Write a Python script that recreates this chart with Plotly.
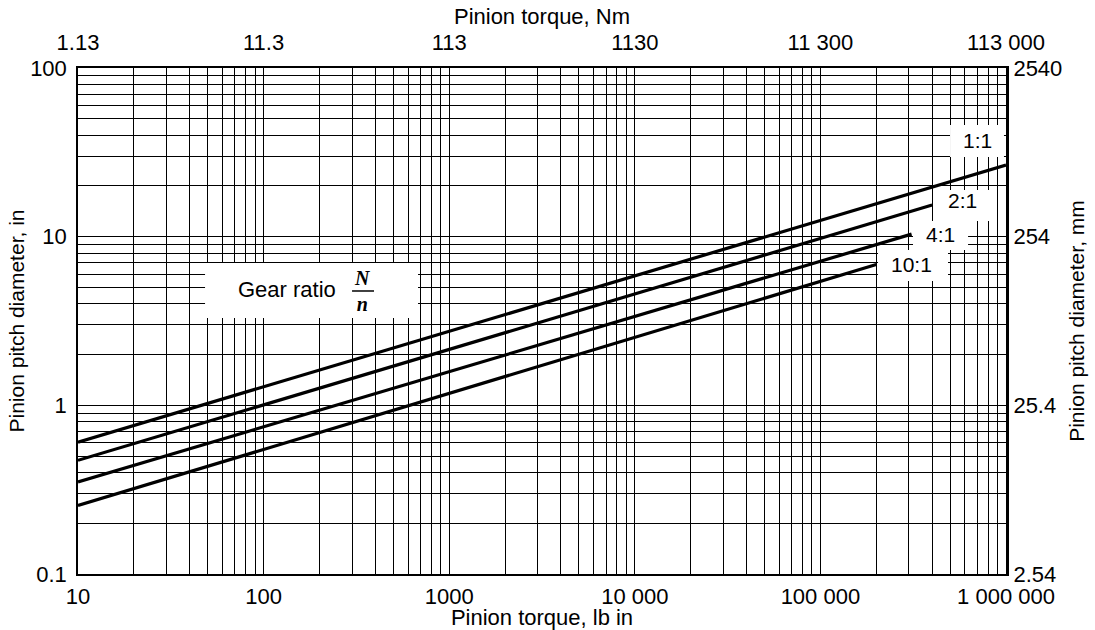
import plotly.graph_objects as go

# ---- data ----
ratio_labels = ["1:1", "2:1", "4:1", "10:1"]
torque_start_lbin = [10, 10, 10, 10]
torque_end_lbin = [1_000_000, 400_000, 310_000, 200_000]
diam_start_in = [0.605, 0.472, 0.351, 0.255]
diam_end_in = [26.6, 15.4, 10.35, 6.84]

x_tick_vals = [10, 100, 1000, 10000, 100000, 1000000]
x_tick_labels_lbin = ["10", "100", "1000", "10 000", "100 000", "1 000 000"]
x_tick_labels_nm = ["1.13", "11.3", "113", "1130", "11 300", "113 000"]
y_tick_vals = [0.1, 1, 10, 100]
y_tick_labels_in = ["0.1", "1", "10", "100"]
y_tick_labels_mm = ["2.54", "25.4", "254", "2540"]
grid_multipliers = [1, 2, 3, 4, 5, 6, 7, 8, 9]

FONT = "Liberation Sans, Arial, sans-serif"
FSH = 22   # horizontal text
FSV = 21   # vertical text


def log_grid(decades, last):
    vals, texts = [], []
    lab = dict(zip(decades, last))
    for d in decades[:-1]:
        for m in grid_multipliers:
            vals.append(d * m)
            texts.append(lab[d] if m == 1 else "")
    vals.append(decades[-1])
    texts.append(lab[decades[-1]])
    return vals, texts


gx, gx_text = log_grid(x_tick_vals, x_tick_labels_lbin)
gy, gy_text = log_grid(y_tick_vals, y_tick_labels_in)

fig = go.Figure()
for lab, t0, t1, d0, d1 in zip(ratio_labels, torque_start_lbin, torque_end_lbin,
                               diam_start_in, diam_end_in):
    fig.add_trace(go.Scatter(x=[t0, t1], y=[d0, d1], mode="lines", name=lab,
                             line=dict(color="black", width=3.2),
                             showlegend=False, hoverinfo="skip"))
# secondary axes holder
fig.add_trace(go.Scatter(x=[None], y=[None], xaxis="x2", yaxis="y2",
                         showlegend=False, hoverinfo="skip"))

axis_common = dict(showline=True, linecolor="black", zeroline=False, ticks="",
                   automargin=False)

fig.update_layout(
    width=1095, height=630,
    margin=dict(l=78, r=89, t=68, b=56),
    paper_bgcolor="white", plot_bgcolor="white",
    font=dict(family=FONT, size=FSH, color="black"),
    xaxis=dict(type="log", range=[1, 6], tickmode="array", tickvals=gx, ticktext=gx_text,
               showgrid=True, gridcolor="black", gridwidth=1.3, linewidth=1.5,
               tickfont=dict(family=FONT, size=FSH, color="black"),
               ticklabelstandoff=2,
               title=dict(text="Pinion torque, lb in", standoff=5,
                          font=dict(family=FONT, size=FSH)),
               **axis_common),
    xaxis2=dict(type="log", range=[1, 6], overlaying="x", side="top", anchor="y",
                tickmode="array", tickvals=x_tick_vals, ticktext=x_tick_labels_nm,
                showgrid=False, linewidth=1.5,
                tickfont=dict(family=FONT, size=FSH, color="black"),
                ticklabelstandoff=7,
                title=dict(text="Pinion torque, Nm", standoff=0,
                           font=dict(family=FONT, size=FSH)),
                **axis_common),
    yaxis=dict(type="log", range=[-1, 2], tickmode="array", tickvals=gy, ticktext=gy_text,
               showgrid=True, gridcolor="black", gridwidth=1.3, linewidth=1.5,
               tickfont=dict(family=FONT, size=FSH, color="black"),
               ticklabelstandoff=5,
               title=dict(text="Pinion pitch diameter, in", standoff=0,
                          font=dict(family=FONT, size=FSV)),
               **axis_common),
    yaxis2=dict(type="log", range=[-1, 2], overlaying="y", side="right", anchor="x",
                tickmode="array", tickvals=y_tick_vals, ticktext=y_tick_labels_mm,
                showgrid=False, linewidth=3,
                tickfont=dict(family=FONT, size=FSH, color="black"),
                ticklabelstandoff=0,
                title=dict(text="Pinion pitch diameter, mm", standoff=8,
                           font=dict(family=FONT, size=FSV)),
                **axis_common),
)

# white label boxes (paper coords), placed clear of the curves
boxes = [
    (0.9397, 0.9978, 0.8241, 0.8874),  # 1:1
    (0.9224, 0.9892, 0.6976, 0.7589),  # 2:1
    (0.8998, 0.9591, 0.6403, 0.6976),  # 4:1
    (0.8621, 0.9375, 0.5791, 0.6403),  # 10:1
    (0.1369, 0.3664, 0.5059, 0.6146),  # Gear ratio
]
for x0, x1, y0, y1 in boxes:
    fig.add_shape(type="rect", xref="paper", yref="paper", x0=x0, x1=x1, y0=y0, y1=y1,
                  fillcolor="white", line=dict(width=0), layer="above")

label_pos = [(0.9688, 0.8577), (0.9526, 0.7391), (0.9289, 0.6719), (0.8987, 0.6107)]
for lab, (xp, yp) in zip(ratio_labels, label_pos):
    fig.add_annotation(text=lab, xref="paper", yref="paper", x=xp, y=yp,
                       xanchor="center", yanchor="middle",
                       showarrow=False, font=dict(family=FONT, size=21, color="black"))

fig.add_annotation(text="Gear ratio", xref="paper", yref="paper", x=0.2252, y=0.5613,
                   xanchor="center", yanchor="middle",
                   showarrow=False, font=dict(family=FONT, size=FSH, color="black"))
fig.add_annotation(text="<b><i>N</i></b><br><b><i>n</i></b>", xref="paper", yref="paper",
                   x=0.3071, y=0.5593, xanchor="center", yanchor="middle", showarrow=False,
                   font=dict(family="Liberation Serif, serif", size=20, color="black"))
fig.add_shape(type="line", xref="paper", yref="paper", x0=0.2953, x1=0.3190,
              y0=0.5593, y1=0.5593, line=dict(color="black", width=1.5), layer="above")

fig.write_html("out.html", config={"displayModeBar": False},
               post_script="document.body.style.margin='0px';")
